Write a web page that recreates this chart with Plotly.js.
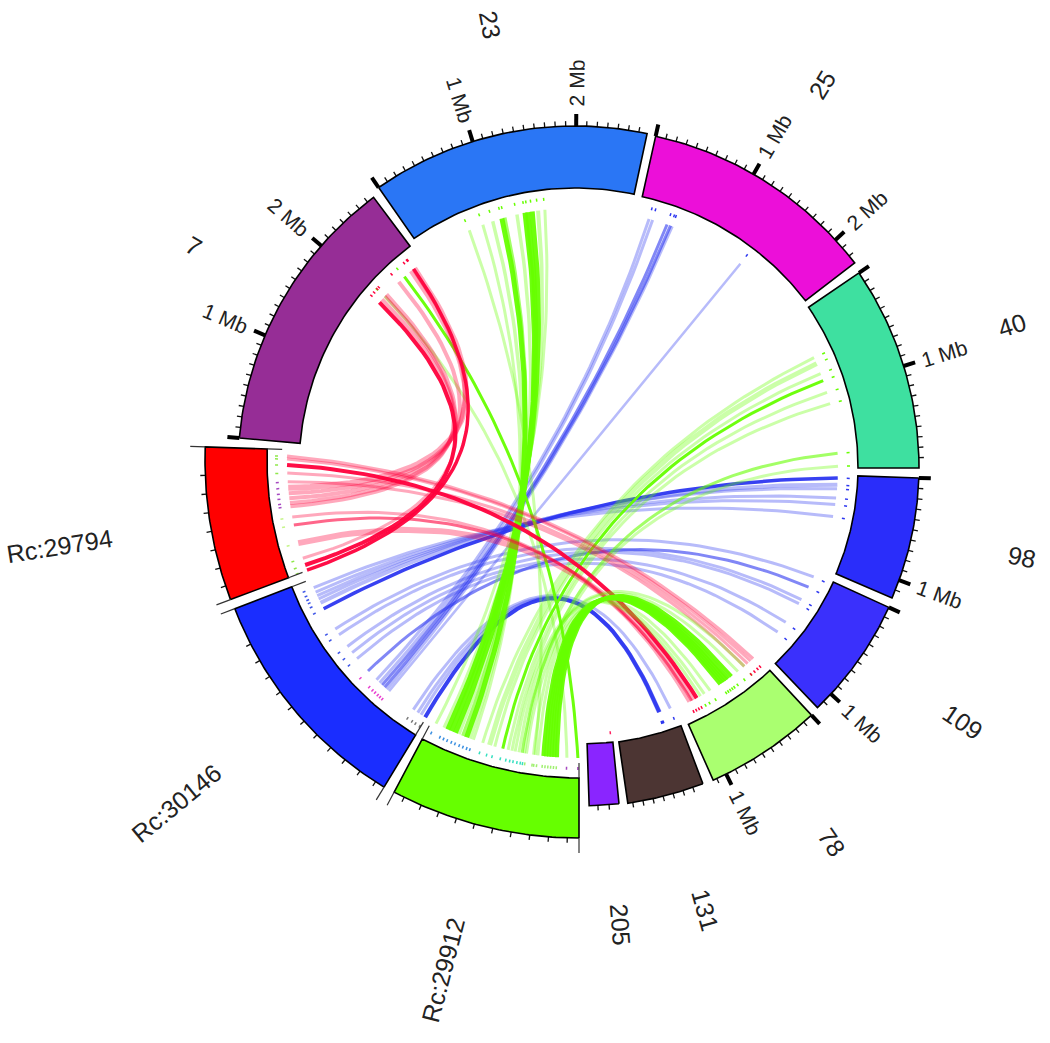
<!DOCTYPE html>
<html><head><meta charset="utf-8">
<script src="https://cdn.plot.ly/plotly-3.0.1.min.js"></script>
<style>html,body{margin:0;padding:0;background:#fff}</style></head>
<body><div id="chart" style="width:1050px;height:1043px"></div>
<script>
// ---- Sectors: angles in degrees clockwise from north
const sectorNames  = ['7','23','25','40','98','109','78','131','205','Rc:29912','Rc:30146','Rc:29794'];
const sectorStart  = [275.1,325.2,12.5,55.8,91.9,114.5,137,159.3,174.35,180,211.2,249.3];
const sectorEnd    = [323.2,372.1,52.5,90,113.3,136.4,156,171.7,178.1,207.9,249,271.9];
const tickFirst    = [275.1,325.2,12.5,55.8,91.9,114.5,137,161,175.6,181.7,212.8,251.4];
const tickLast     = [323.2,372.1,52.5,88.9,113.3,136.4,156,171,177,206.3,245.7,267.8];
const tickStep     = [1.8,1.75,1.75,1.71,1.81,1.85,1.67,1.65,1.4,2.73,3,2.73];
const hasMbTicks   = [1,1,1,1,1,1,1,0,0,0,0,0];
// ---- Links: [sector, angle] ends, ribbon width, strength
const red7From=[321,320,316.4,312.5,311,312,320.8,310.1], red7To=[264.9,263.9,263,262.1,261.5,251.7,249.4,250.4];
const red7Width=[6,4,4,4,4,3,3.5,4], red7Level=[1,1,1,1,1,1,3,3];
const red78From=[270.7,270.2,267.6,266,259.5,258,254.6,269.1], red78To=[137.9,138.6,139.4,140.3,154,153.4,152.8,152.2];
const red78Width=[3.5,3,3,3,3,3,6,4], red78Level=[1,1,1,1,1,2,1,3];
const green23From=[336.2,339.4,341.7,343.8,344.4,347.2,349,349.6,350.6,351.9,353.4];
const green23To=[188,199.6,200.2,200.9,201.6,202.4,203.1,203.9,204.6,205.3,207];
const green23Width=[3,3,3.5,5,4,3.5,5,5,5,4,3], green23Level=[1,1,1,3,2,1,3,3,3,1,1];
const green40From=[65.5,66.9,69.2,70.8,73.5,76,86.8,89.6], green40To=[197.8,196.5,195.5,194,193,192.3,190.4,189.6];
const green40Width=[3,5,3,3,3,3,3,3], green40Level=[1,1,1,3,1,1,2,1];
const green78From=[146.5,146,145.5,145,144.5,143.7,149,150.4,151.3,142,140.3];
const green78To=[186.5,186,185.5,185,184.5,184,187.5,188.3,190,191,191.7];
const green78Width=[4,4,4,4,4,4,3,3,3,3,3], green78Level=[3,3,3,3,3,3,1,1,1,1,1];
const green7From=[318.1,311.9], green7To=[180.2,182.2], green7Width=[3,3], green7Level=[3,1];
const blue25From=[15,15.8,19.1,19.9,20.3,37.3], blue25To=[224.1,223.2,222.5,221.8,221.2,220.6];
const blue25Width=[3,3,3,3,3,2.5], blue25Level=[1,1,2,2,1,1];
const blue98From=[92.5,94.1,95,97.1,98.6,101.4], blue98To=[242.4,243.8,244.7,245.4,246.2,247.2];
const blue98Width=[3.5,4,3,3,3,3], blue98Level=[3,1,1,1,1,1];
const blue109From=[115.3,118,121.4,122.5,127.9,130.9], blue109To=[237.6,226.6,236.2,233.2,231.6,230];
const blue109Width=[3,3,3,3,3,3], blue109Level=[1,2,1,1,1,1];
const blue131From=[162.5,162.7,162.3,160.1], blue131To=[211.4,212.4,213.2,214.3];
const blue131Width=[4,3,3,3], blue131Level=[3,1,1,1];
// ---- Small track marks on the Rc sectors
const bandSector=['Rc:29794','Rc:29794','Rc:29794','Rc:29794','Rc:30146','Rc:30146','Rc:30146','Rc:29912','Rc:29912','Rc:29912','Rc:29912'];
const bandLow =[267,261,254,249,230,220,211,198,190,183,180];
const bandHigh=[272,267,261,254,248,230,220,208,198,190,183];
const bandColor=['#8fe84a','#a648c0','#c6f58a','#8fe84a','#3d55e8','#e83fd0','#777777','#3a8fe0','#35e0c0','#a0f070','#a648c0'];
const extraMarkSector=['205'], extraMarkAngle=[174.6], extraMarkColor=['#ff2060'];
const mbLabels=['1 Mb','2 Mb'];
const labelAngle =[300.2,349.2,31.8,72,101.7,124,145.8,164.4,175.4,194.5,230.6,261];
const labelRadius=[442,453,457,463,443,445,469,480,578,544,509,547];

// ---- Drawing parameters (page geometry and styling)
const sectorColor=['#962d96','#2a76f5','#ec0fd9','#3ee0a0','#2a2dfa','#3a30fc','#aaff70','#4c3533','#8a25ff','#66ff00','#1a2dff','#ff0000'];
const frameX=[576,575,581,572,588,594,568,576,574,579,570,600];
const frameY=[468,470,473,468,467,473,454,448,349,443,480,460];
const rInner=[277,282,283,286,270,263,296,297,395,335,298,333];
const rOuter=[338,344,345,347,331,324,357,359,457,395,359,395];
const edgeSector=['Rc:29912','Rc:30146','Rc:29794'];
const CX=562, CY=482, LINK_GAP=20;
const idx=n=>sectorNames.indexOf(n);
const rad=d=>d*Math.PI/180;
function pt(i,a,r){return [frameX[i]+r*Math.sin(rad(a)), frameY[i]-r*Math.cos(rad(a))];}
const traces=[];
// ribbons
function bundle(colorRGB,sa,fa,sb,fb,w,lv){
  const alpha={1:0.34,2:0.6,3:0.95};
  const order=fa.map((_,k)=>k).sort((p,q)=>lv[p]-lv[q]);
  order.forEach(k=>{
    const i=idx(sa), j=idx(sb);
    const p0=pt(i,fa[k],rInner[i]-LINK_GAP), p2=pt(j,fb[k],rInner[j]-LINK_GAP);
    const xs=[],ys=[];
    for(let s=0;s<=48;s++){const t=s/48,u=1-t;
      xs.push(u*u*p0[0]+2*u*t*CX+t*t*p2[0]);
      ys.push(u*u*p0[1]+2*u*t*CY+t*t*p2[1]);}
    traces.push({type:'scatter',mode:'lines',x:xs,y:ys,hoverinfo:'skip',showlegend:false,
      line:{color:`rgba(${colorRGB},${alpha[lv[k]]})`,width:w[k]}});
    addMark(i,fa[k],colorRGB); addMark(j,fb[k],colorRGB);
  });
}
const marks={};
function addMark(i,a,colorRGB){
  let c=`rgb(${colorRGB})`;
  bandSector.forEach((s,b)=>{ if(idx(s)===i && a>=bandLow[b] && a<bandHigh[b]) c=bandColor[b]; });
  (marks[c]=marks[c]||[]).push([i,a]);
}
const BLUE='45,55,240', GREEN='102,255,0', RED='255,0,60';
bundle(BLUE,'25',blue25From,'Rc:30146',blue25To,blue25Width,blue25Level);
bundle(BLUE,'98',blue98From,'Rc:30146',blue98To,blue98Width,blue98Level);
bundle(BLUE,'109',blue109From,'Rc:30146',blue109To,blue109Width,blue109Level);
bundle(BLUE,'131',blue131From,'Rc:30146',blue131To,blue131Width,blue131Level);
bundle(GREEN,'23',green23From,'Rc:29912',green23To,green23Width,green23Level);
bundle(GREEN,'40',green40From,'Rc:29912',green40To,green40Width,green40Level);
bundle(GREEN,'7',green7From,'Rc:29912',green7To,green7Width,green7Level);
bundle(RED,'7',red7From,'Rc:29794',red7To,red7Width,red7Level);
bundle(RED,'Rc:29794',red78From,'78',red78To,red78Width,red78Level);
bundle(GREEN,'78',green78From,'Rc:29912',green78To,green78Width,green78Level);
extraMarkSector.forEach((s,k)=>{(marks[extraMarkColor[k]]=marks[extraMarkColor[k]]||[]).push([idx(s),extraMarkAngle[k]]);});
Object.keys(marks).forEach(c=>{
  const xs=[],ys=[];
  marks[c].forEach(([i,a])=>{const o=pt(i,a,rInner[i]-8),n=pt(i,a,rInner[i]-11);xs.push(o[0],n[0],null);ys.push(o[1],n[1],null);});
  traces.push({type:'scatter',mode:'lines',x:xs,y:ys,hoverinfo:'skip',showlegend:false,line:{color:c,width:1.5}});
});
// ticks
const minX=[],minY=[],majX=[],majY=[];
const annotations=[];
const rot=a=>{const m=((a%360)+360)%360;return m<180?m-90:m-270;};
sectorNames.forEach((n,i)=>{
  let k=0;
  for(let a=tickFirst[i];a<=tickLast[i]+0.01;a+=tickStep[i],k++){
    const major=hasMbTicks[i]&&k%10===0;
    const p=pt(i,a,rOuter[i]),q=pt(i,a,rOuter[i]+(major?12:5));
    (major?majX:minX).push(p[0],q[0],null);(major?majY:minY).push(p[1],q[1],null);
    if(major&&k>0){
      const l=pt(i,a,rOuter[i]+43);
      annotations.push({x:l[0],y:l[1],xref:'x',yref:'y',text:mbLabels[k/10-1],showarrow:false,textangle:rot(a),
        font:{family:'Liberation Sans',size:21,color:'#222'},xanchor:'center',yanchor:'middle'});
    }
  }
  const l=pt(i,labelAngle[i],labelRadius[i]);
  annotations.push({x:l[0],y:l[1],xref:'x',yref:'y',text:n,showarrow:false,textangle:rot(labelAngle[i]),
    font:{family:'Liberation Sans',size:25,color:'#222'},xanchor:'center',yanchor:'middle'});
});
traces.push({type:'scatter',mode:'lines',x:minX,y:minY,hoverinfo:'skip',showlegend:false,line:{color:'#111',width:1.3}});
traces.push({type:'scatter',mode:'lines',x:majX,y:majY,hoverinfo:'skip',showlegend:false,line:{color:'#000',width:4}});
// sectors
sectorNames.forEach((n,i)=>{
  const xs=[],ys=[],N=50;
  for(let s=0;s<=N;s++){const p=pt(i,sectorStart[i]+(sectorEnd[i]-sectorStart[i])*s/N,rOuter[i]);xs.push(p[0]);ys.push(p[1]);}
  for(let s=N;s>=0;s--){const p=pt(i,sectorStart[i]+(sectorEnd[i]-sectorStart[i])*s/N,rInner[i]);xs.push(p[0]);ys.push(p[1]);}
  xs.push(xs[0]);ys.push(ys[0]);
  traces.push({type:'scatter',mode:'lines',x:xs,y:ys,fill:'toself',fillcolor:sectorColor[i],hoverinfo:'skip',showlegend:false,
    line:{color:'#000',width:1.6}});
});
// extended edge lines on the Rc sectors
{const xs=[],ys=[];
 edgeSector.forEach(n=>{const i=idx(n);[sectorStart[i],sectorEnd[i]].forEach(a=>{
   const p1=pt(i,a,rOuter[i]),p2=pt(i,a,rOuter[i]+15),p3=pt(i,a,rInner[i]),p4=pt(i,a,rInner[i]-15);
   xs.push(p1[0],p2[0],null,p3[0],p4[0],null);ys.push(p1[1],p2[1],null,p3[1],p4[1],null);});});
 traces.push({type:'scatter',mode:'lines',x:xs,y:ys,hoverinfo:'skip',showlegend:false,line:{color:'#333',width:1.2}});}
Plotly.newPlot('chart',traces,{
  width:1050,height:1043,margin:{l:0,r:0,t:0,b:0},paper_bgcolor:'#fff',plot_bgcolor:'#fff',showlegend:false,
  xaxis:{range:[0,1050],visible:false,fixedrange:true},
  yaxis:{range:[1043,0],visible:false,fixedrange:true},
  annotations:annotations
},{displayModeBar:false,staticPlot:true});
</script></body></html>
